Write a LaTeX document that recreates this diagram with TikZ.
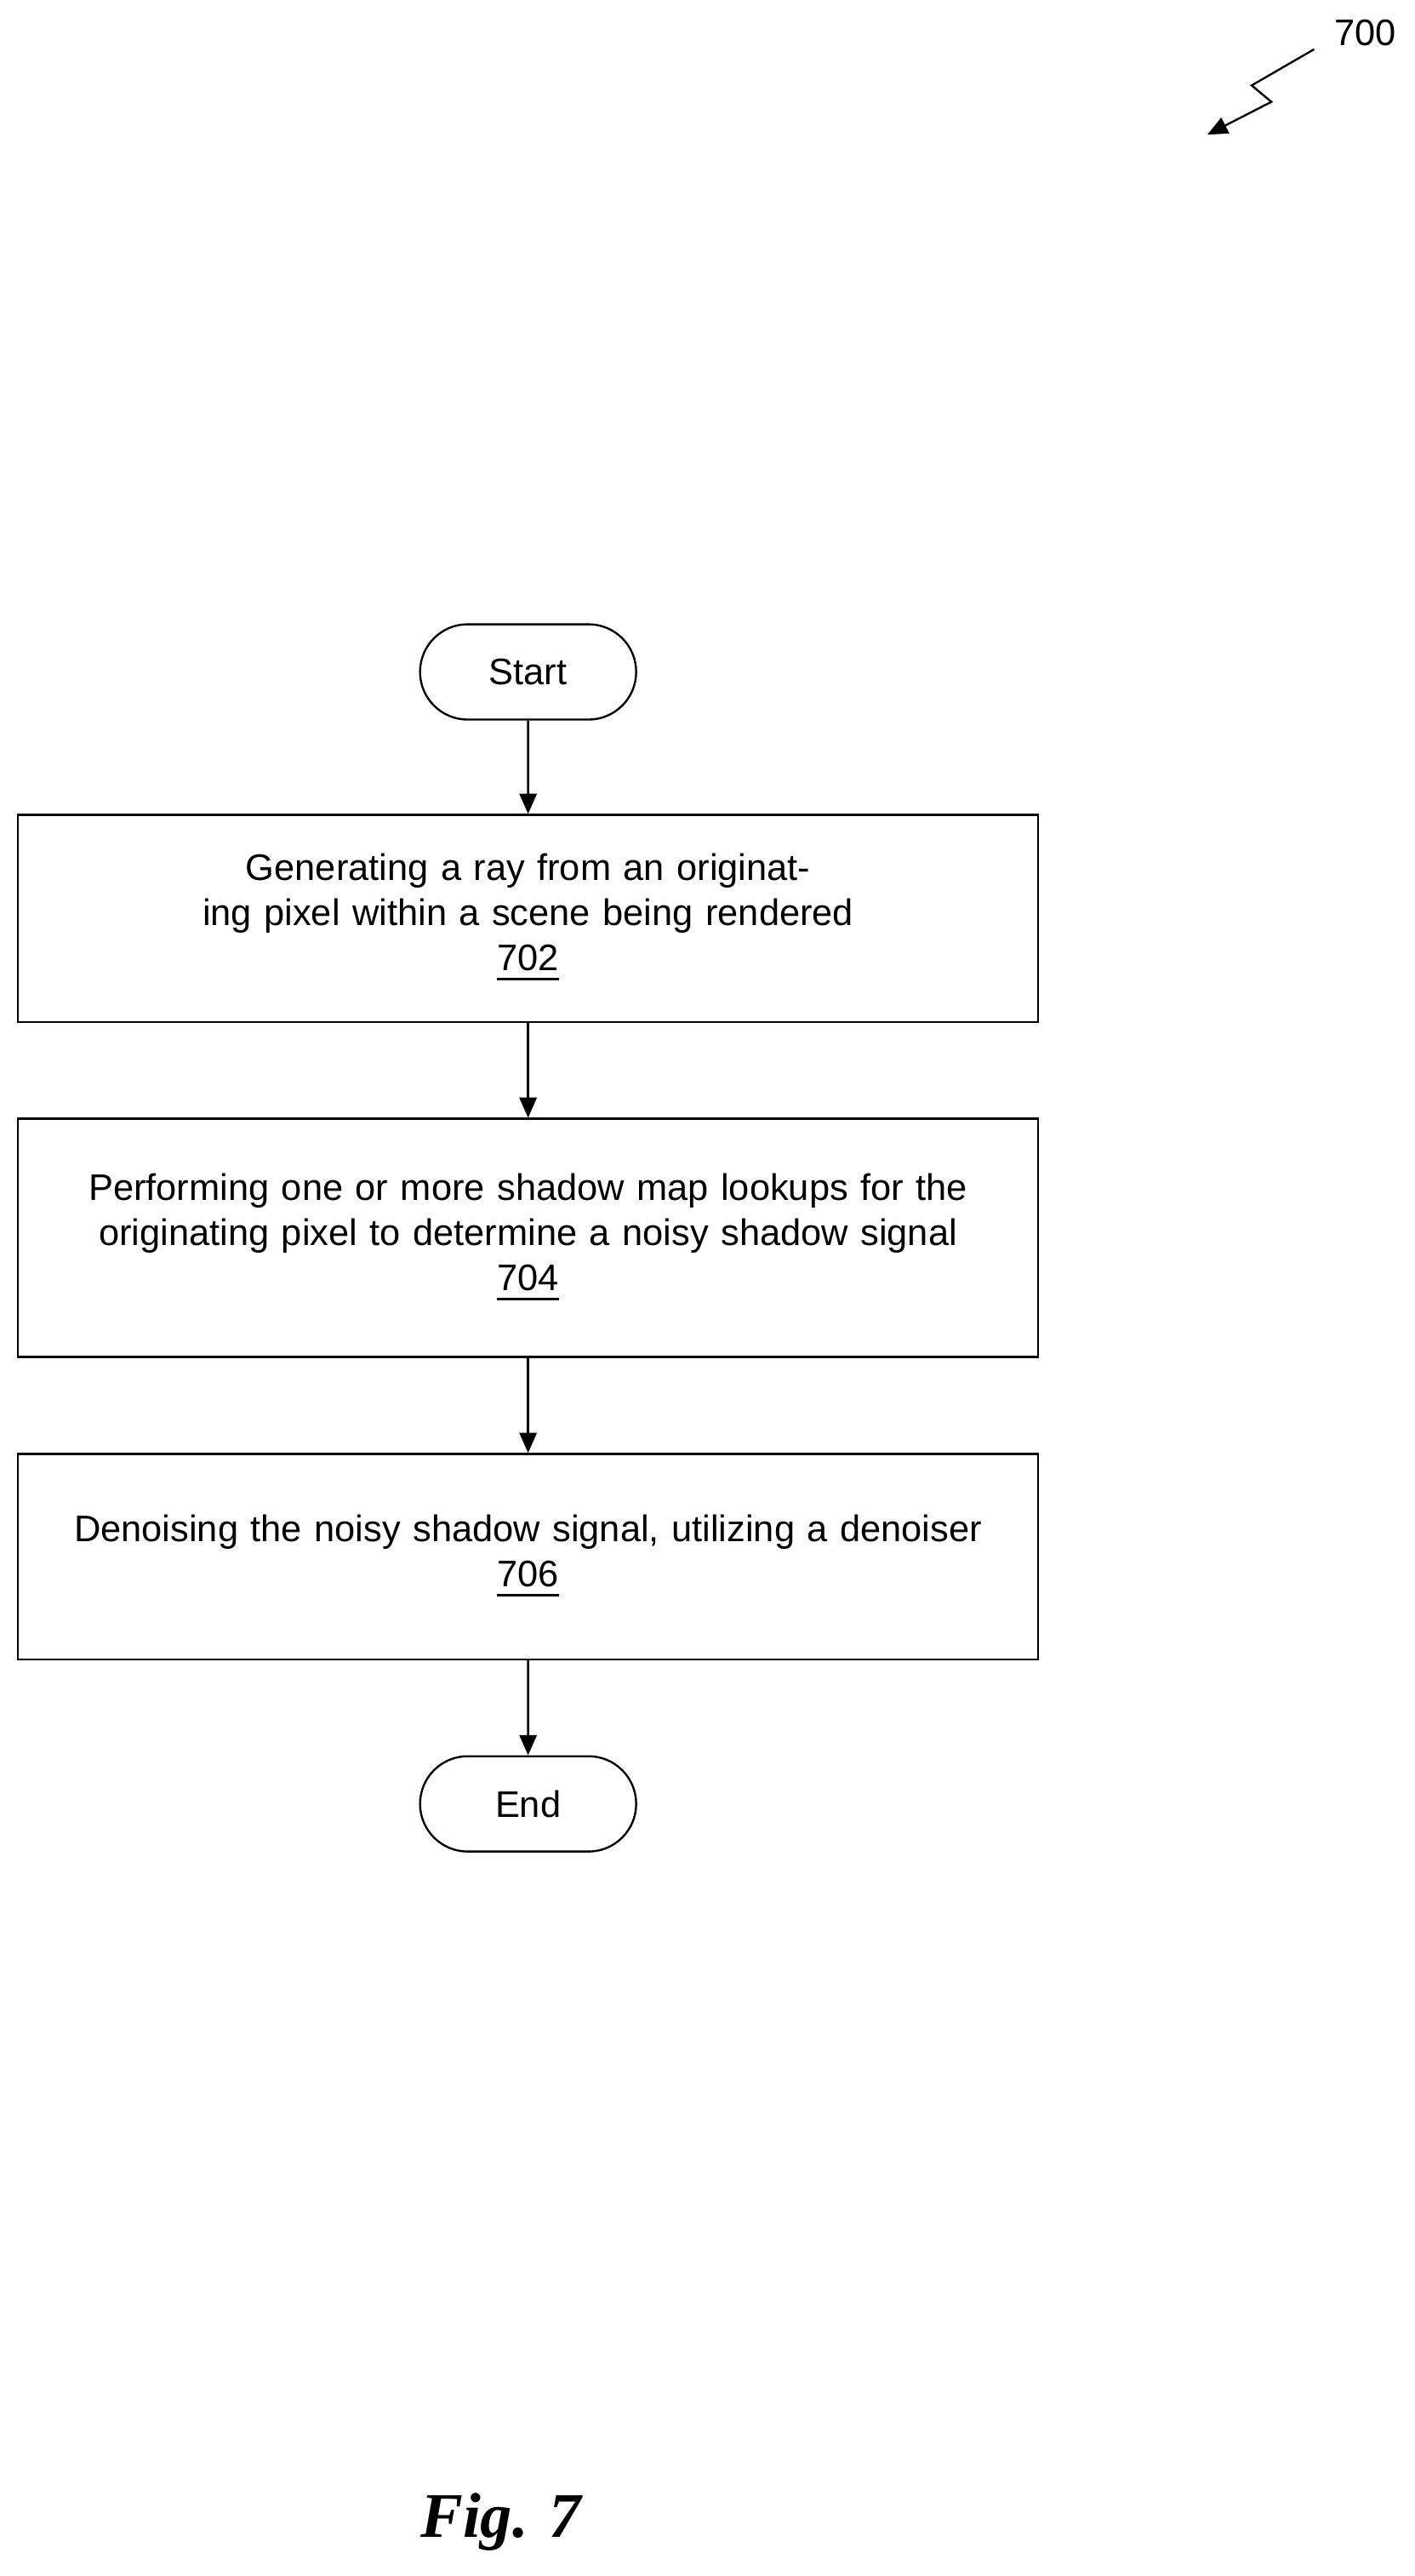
\documentclass[tikz,border=0pt]{standalone}
\usepackage{fontspec}
\setmainfont{Liberation Sans}
\newfontfamily\figfont{Liberation Serif}
\usetikzlibrary{shapes.misc,arrows.meta}
\begin{document}
\begin{tikzpicture}[x=1cm,y=-1cm,
  font=\fontsize{6.4}{7.8}\selectfont,
  term/.style={draw,rounded rectangle,minimum width=1.55cm,minimum height=0.58cm,line width=0.35pt},
  box/.style={draw,minimum width=6.21cm,align=center,text width=5.9cm,line width=0.35pt},
  flow/.style={-{Triangle[length=3.5pt,width=3pt]},line width=0.35pt}]
\useasboundingbox (0,0) rectangle (8.61,15.68);

\node[term] (start) at (3.215,4.09) {Start};
\node[box,minimum height=1.26cm] (s702) at (3.215,5.59) {Generating a ray from an originating pixel within a scene being rendered\\\underline{702}};
\node[box,minimum height=1.45cm] (s704) at (3.215,7.535) {Performing one or more shadow map lookups for the originating pixel to determine a noisy shadow signal\\\underline{704}};
\node[box,minimum height=1.25cm] (s706) at (3.215,9.475) {Denoising the noisy shadow signal, utilizing a denoiser\\\underline{706}};
\node[term] (end) at (3.215,10.98) {End};

\draw[flow] (start) -- (s702);
\draw[flow] (s702) -- (s704);
\draw[flow] (s704) -- (s706);
\draw[flow] (s706) -- (end);

% figure reference
\node (lbl) at (8.31,0.2) {700};
\coordinate (tip) at (7.35,0.82);
\draw[flow] (8.0,0.3) -- (7.62,0.52) -- (7.74,0.62) -- (tip);

\node[font=\fontsize{11}{13}\selectfont\figfont\bfseries\itshape] (fig) at (3.05,15.35) {Fig. 7};
\end{tikzpicture}
\end{document}
